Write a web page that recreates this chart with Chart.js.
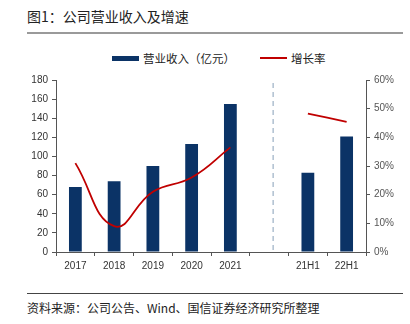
<!DOCTYPE html>
<html>
<head>
<meta charset="utf-8">
<script src="https://cdn.jsdelivr.net/npm/chart.js@4"></script>
<style>
  body { margin: 0; background: #fff; width: 410px; height: 324px; position: relative; overflow: hidden;
         font-family: "Liberation Sans", "Noto Sans CJK SC", sans-serif; }
  #title { position: absolute; left: 27px; top: 6px; font-size: 14px; color: #222;
           font-family: "Noto Sans CJK SC", sans-serif; }
  #topline { position: absolute; left: 27px; top: 32px; width: 376px; height: 2px; background: #9a9a9a; }
  #botline { position: absolute; left: 27px; top: 293px; width: 376px; height: 1px; background: #444; }
  #source { position: absolute; left: 27px; top: 299px; font-size: 12px; color: #222;
            font-family: "Noto Sans CJK SC", sans-serif; }
  #legend { position: absolute; top: 50px; left: 0; font-size: 11.5px; color: #222;
            font-family: "Noto Sans CJK SC", sans-serif; }
  .item { position: absolute; white-space: nowrap; top: 0; }
  .swatch { position: absolute; width: 27px; }
  .item span.txt { position: absolute; top: 0; line-height: 16px; }
  #wrap { position: absolute; left: 0; top: 70px; width: 410px; height: 220px; }
</style>
</head>
<body>
<div id="title">图1：公司营业收入及增速</div>
<div id="topline"></div>
<div id="legend"></div>
<div id="wrap"><canvas id="chart"></canvas></div>
<div id="botline"></div>
<div id="source">资料来源：公司公告、Wind、国信证券经济研究所整理</div>
<script>
categories = ['2017', '2018', '2019', '2020', '2021', '', '21H1', '22H1'];
revenue = [68, 74, 90, 113, 155, null, 83, 121];      // 营业收入（亿元）
growth = [31, 9, 21, 26, 36.5, null, 48.3, 45.4];      // 增长率 %

barColor = '#0b3366'
lineColor = '#c00000'
axisColor = '#555555'

// legend drawn in html
var legendItems = [
    { text: '营业收入（亿元）', color: barColor, h: 5, x: 112 },
    { text: '增长率', color: lineColor, h: 2, x: 260 },
];
var legendEl = document.getElementById('legend');
legendItems.forEach((it) => {
    const d = document.createElement('div');
    d.className = 'item';
    d.style.left = it.x + 'px';
    d.innerHTML = '<span class="swatch" style="left:0;top:' + (8 - it.h / 2) + 'px;height:' + it.h +
        'px;background:' + it.color + '"></span><span class="txt" style="left:31px">' + it.text + '</span>';
    legendEl.appendChild(d);
});

// dashed divider between annual and half-year data
var dividerPlugin = {
    id: 'divider',
    afterDatasetsDraw(chart) {
        const x = chart.scales.x;
        const px = x.getPixelForValue(5) + 4;
        const ctx = chart.ctx;
        ctx.save();
        ctx.strokeStyle = '#9bb0c4';
        ctx.lineWidth = 1.2;
        ctx.setLineDash([5, 4]);
        ctx.beginPath();
        ctx.moveTo(px, chart.chartArea.top + 3);
        ctx.lineTo(px, chart.chartArea.bottom);
        ctx.stroke();
        ctx.restore();
    }
};

var ctx1 = document.getElementById('chart').getContext('2d');

new Chart(ctx1, {
    data: {
        labels: categories,
        datasets: [
            {
                type: 'line',
                label: '增长率',
                data: growth,
                yAxisID: 'y1',
                borderColor: lineColor,
                backgroundColor: lineColor,
                borderWidth: 1.8,
                pointRadius: 0,
                tension: 0.45,
                spanGaps: false,
                order: 0,
            },
            {
                type: 'bar',
                label: '营业收入（亿元）',
                data: revenue,
                yAxisID: 'y',
                backgroundColor: barColor,
                barPercentage: 0.33,
                categoryPercentage: 1,
                order: 1,
            },
        ],
    },
    options: {
        responsive: true,
        maintainAspectRatio: false,
        animation: false,
        layout: { padding: { left: 0, right: 0, top: 9, bottom: 0 } },
        plugins: {
            legend: { display: false },
            tooltip: { enabled: false },
        },
        scales: {
            x: {
                grid: {
                    display: true,
                    drawOnChartArea: false,
                    drawTicks: true,
                    tickLength: 4,
                    color: axisColor,
                    offset: true,
                },
                border: { color: axisColor, width: 1 },
                ticks: { color: '#333', font: { size: 10 }, padding: 4, maxRotation: 0, autoSkip: false },
                afterFit(scale) { scale.height = 38; },
            },
            y: {
                position: 'left',
                min: 0,
                max: 180,
                grid: { drawOnChartArea: false, drawTicks: true, tickLength: 4, color: axisColor },
                border: { color: axisColor, width: 1 },
                ticks: { stepSize: 20, color: '#333', font: { size: 10 }, padding: 4 },
                afterFit(scale) { scale.width = 56; },
            },
            y1: {
                position: 'right',
                min: 0,
                max: 60,
                grid: { drawOnChartArea: false, drawTicks: true, tickLength: 4, color: axisColor },
                border: { color: axisColor, width: 1 },
                ticks: {
                    stepSize: 10,
                    color: '#555',
                    font: { size: 10 },
                    padding: 4,
                    callback: (v) => v + '%',
                },
                afterFit(scale) { scale.width = 44; },
            },
        },
    },
    plugins: [dividerPlugin],
});
</script>
</body>
</html>
